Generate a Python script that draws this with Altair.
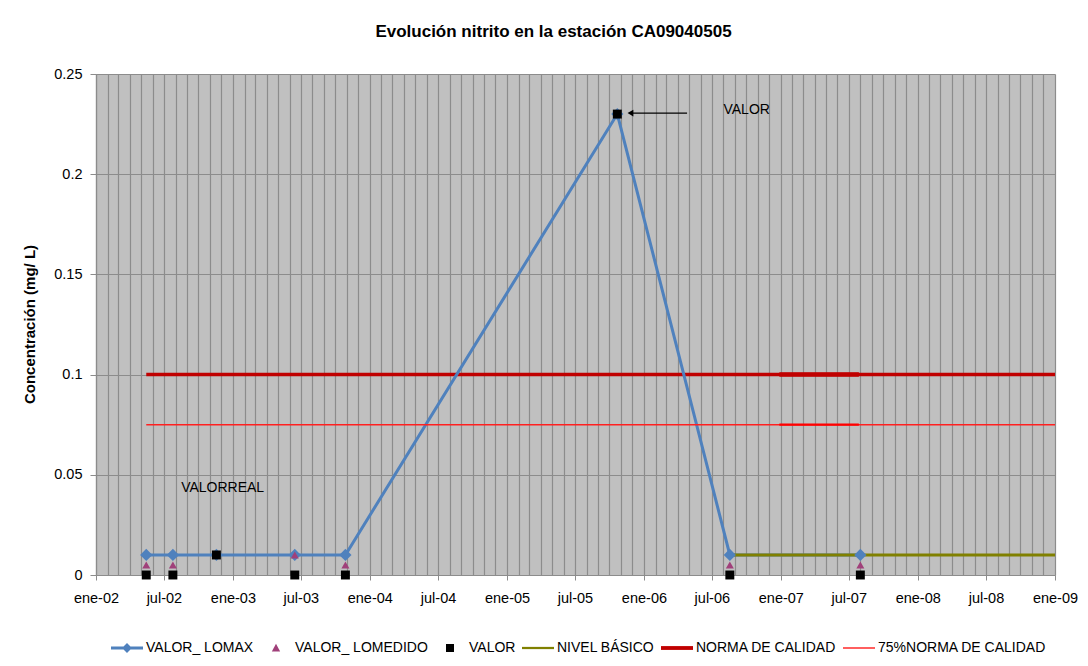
import altair as alt
import pandas as pd

# ---------------- data ----------------
fechas = ["2002-05-15", "2002-07-25", "2002-11-18", "2003-06-15",
          "2003-10-28", "2005-10-22", "2006-08-18", "2007-08-01"]
valor_lomax = [0.01, 0.01, 0.01, 0.01, 0.01, 0.23, 0.01, 0.01]

fechas_medido = ["2002-05-15", "2002-07-25", "2003-06-15", "2003-10-28",
                 "2006-08-18", "2007-08-01"]
valor_medido = [0.005, 0.005, 0.01, 0.005, 0.005, 0.005]

fechas_valor = fechas
valor_real = [0.0, 0.0, 0.01, 0.0, 0.0, 0.23, 0.0, 0.0]

fechas_nivel = ["2006-08-18", "2009-01-01"]
nivel_basico = [0.01, 0.01]

fechas_norma = ["2002-05-15", "2009-01-01"]
norma = [0.1, 0.1]
norma75 = [0.075, 0.075]

fechas_solape = ["2006-12-28", "2007-07-28"]
solape_norma = [0.1, 0.1]
solape_75 = [0.075, 0.075]

series = ["VALOR_ LOMAX", "VALOR_ LOMEDIDO", "VALOR", "NIVEL BÁSICO",
          "NORMA DE CALIDAD", "75%NORMA DE CALIDAD"]
colores = ["#4f81bd", "#a0407a", "#000000", "#808000", "#c00000", "#ff2020"]

FONT = "Liberation Sans"
GRID = "#8c8c8c"


def utc(s):
    y, m, d = map(int, s.split("-"))
    return alt.DateTime(year=y, month=m, date=d, utc=True)


meses = [utc(f"{y}-{m:02d}-01") for y in range(2002, 2009) for m in range(1, 13)] + [utc("2009-01-01")]
semestres = [utc(f"{y}-{m:02d}-01") for y in range(2002, 2009) for m in (1, 7)] + [utc("2009-01-01")]

xscale = alt.Scale(type="utc", domain=[utc("2002-01-01"), utc("2009-01-01")])
yscale = alt.Scale(domain=[0, 0.25], nice=False, zero=True)

df_lomax = pd.DataFrame({"fecha": fechas, "v": valor_lomax})
df_med = pd.DataFrame({"fecha": fechas_medido, "v": valor_medido})
df_val = pd.DataFrame({"fecha": fechas_valor, "v": valor_real})
df_niv = pd.DataFrame({"fecha": fechas_nivel, "v": nivel_basico})
df_norma = pd.DataFrame({"fecha": fechas_norma, "v": norma})
df_n75 = pd.DataFrame({"fecha": fechas_norma, "v": norma75})
df_sol1 = pd.DataFrame({"fecha": fechas_solape, "v": solape_norma})
df_sol2 = pd.DataFrame({"fecha": fechas_solape, "v": solape_75})


def X(axis=None):
    return alt.X("fecha:T", scale=xscale, axis=axis)


def Y(axis=None):
    return alt.Y("v:Q", scale=yscale, axis=axis)


axis_grid = alt.Axis(orient="bottom", values=meses, grid=True, gridColor=GRID,
                     gridWidth=1.2, gridOpacity=1, labels=False, ticks=False,
                     domain=False, title=None)
axis_lab = alt.Axis(orient="bottom", values=semestres, grid=False,
                    labelExpr="(utcmonth(datum.value)==0 ? 'ene-' : 'jul-') + utcFormat(datum.value, '%y')",
                    labelFont=FONT, labelFontSize=14.5, labelColor="black",
                    labelPadding=11, ticks=True, tickSize=5, tickColor=GRID,
                    domain=True, domainColor=GRID, domainWidth=1.2,
                    labelFlush=False, labelOverlap=False, title=None)
axis_y = alt.Axis(orient="left", values=[0, 0.05, 0.1, 0.15, 0.2, 0.25], format=".2~f",
                  grid=True, gridColor=GRID, gridWidth=1.2, gridOpacity=1,
                  labelFont=FONT, labelFontSize=14.5, labelColor="black",
                  labelPadding=8, tickSize=6, tickColor=GRID, domainColor=GRID,
                  domainWidth=1.2,
                  title="Concentración (mg/ L)", titleFont=FONT, titleFontSize=15,
                  titleFontWeight="bold", titleColor="black", titleX=-67,
                  titleY=250, titleAngle=270, titleAlign="center",
                  titleBaseline="middle")

norma_line = alt.Chart(df_norma).mark_line(color="#c00000", strokeWidth=3.5).encode(
    x=X(axis_grid), y=Y(axis_y))
n75_line = alt.Chart(df_n75).mark_line(color="#ff2020", strokeWidth=1.5).encode(
    x=X(), y=Y())
sol1 = alt.Chart(df_sol1).mark_line(color="#c00000", strokeWidth=4.5, strokeCap="butt").encode(
    x=X(), y=Y())
sol2 = alt.Chart(df_sol2).mark_line(color="#ff0000", strokeWidth=2.2, strokeCap="butt").encode(
    x=X(), y=Y())
lomax_line = alt.Chart(df_lomax).mark_line(color="#4f81bd", strokeWidth=3).encode(
    x=X(axis_lab), y=Y())
nivel_line = alt.Chart(df_niv).mark_line(color="#808000", strokeWidth=3).encode(
    x=X(), y=Y())
lomax_pts = alt.Chart(df_lomax).mark_point(shape="diamond", filled=True, size=150,
                                           color="#4f81bd", opacity=1).encode(x=X(), y=Y())
med_pts = alt.Chart(df_med).mark_point(shape="triangle-up", filled=True, size=65,
                                       color="#a0407a", opacity=1).encode(x=X(), y=Y())
val_pts = alt.Chart(df_val).mark_point(shape="square", filled=True, size=80,
                                       color="#000000", opacity=1).encode(x=X(), y=Y())

# annotations
ann_text = pd.DataFrame({"fecha": ["2006-08-01", "2002-08-16"],
                         "v": [0.232, 0.0434],
                         "t": ["VALOR", "VALORREAL"]})
ann_arrow = pd.DataFrame({"fecha": ["2005-11-26"], "fecha2": ["2006-04-26"], "v": [0.2305]})
textos = alt.Chart(ann_text).mark_text(align="left", baseline="middle", font=FONT,
                                       fontSize=14, color="black").encode(
    x=X(), y=Y(), text="t:N")
flecha = alt.Chart(ann_arrow).mark_rule(color="black", strokeWidth=1.2).encode(
    x=X(), x2="fecha2:T", y=Y())
punta = alt.Chart(ann_arrow).mark_point(shape="triangle-left", filled=True, size=45,
                                        color="black", opacity=1).encode(x=X(), y=Y())

# legend (dummy points outside the visible domain, clipped)
paths = [
    "M-1,-0.094L1,-0.094L1,0.094L-1,0.094Z M0,-0.31L0.31,0L0,0.31L-0.31,0Z",
    "M0,-0.26L0.26,0.22L-0.26,0.22Z",
    "M-0.25,-0.25L0.25,-0.25L0.25,0.25L-0.25,0.25Z",
    "M-1,-0.07L1,-0.07L1,0.07L-1,0.07Z",
    "M-1,-0.12L1,-0.12L1,0.12L-1,0.12Z",
    "M-1,-0.045L1,-0.045L1,0.045L-1,0.045Z",
]
df_leg = pd.DataFrame({"fecha": ["1990-01-01"] * len(series), "v": [0.0] * len(series),
                       "serie": series})
leg = alt.Legend(title=None, orient="none", legendX=15, legendY=558,
                 direction="horizontal", columns=6, symbolSize=1024,
                 symbolStrokeWidth=0, labelFont=FONT, labelFontSize=14,
                 labelColor="black", columnPadding=6, labelOffset=3,
                 symbolOpacity=1, labelLimit=300)
leyenda = alt.Chart(df_leg).mark_point(filled=True, opacity=1, clip=True).encode(
    x=X(), y=Y(),
    color=alt.Color("serie:N", scale=alt.Scale(domain=series, range=colores), legend=leg),
    shape=alt.Shape("serie:N", scale=alt.Scale(domain=series, range=paths), legend=leg))

chart = alt.layer(
    norma_line, lomax_line, nivel_line, n75_line, sol1, sol2,
    lomax_pts, med_pts, val_pts, flecha, punta, textos, leyenda
).resolve_axis(x="independent", y="independent").properties(
    width=959, height=501,
    background="white",
    title=alt.TitleParams("Evolución nitrito en la estación CA09040505", font=FONT,
                          fontSize=17, fontWeight="bold", anchor="middle",
                          frame="group", dx=-22, offset=25, color="black"),
    autosize=alt.AutoSizeParams(type="none"),
    padding={"left": 88, "top": 66, "right": 25, "bottom": 100},
).configure_view(fill="#c0c0c0", stroke=None)

chart.save("out.html", embed_options={"renderer": "svg", "actions": False})
